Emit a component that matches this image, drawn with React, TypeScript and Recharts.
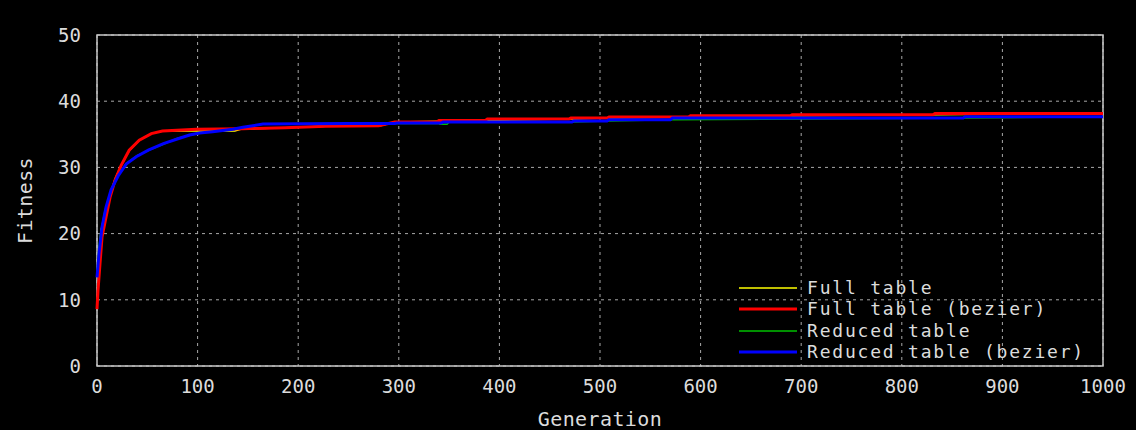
import { LineChart, Line, XAxis, YAxis, CartesianGrid, Legend, ReferenceArea } from "recharts";

// generation / fitness pairs
const fullTableGen = [0, 2, 4, 8, 12, 18, 24, 32, 42, 54, 65, 137, 143, 187, 227, 280, 296, 386, 469, 507, 588, 689, 831, 1000];
const fullTableFit = [14, 17, 20.5, 23, 25.5, 28.3, 30.3, 32.5, 34.1, 35.1, 35.5, 35.5, 35.75, 36.0, 36.2, 36.2, 36.85, 37.1, 37.3, 37.45, 37.6, 37.8, 37.95, 38.15];

const fullBezierGen = [0, 1, 3, 5, 9, 13, 18, 24, 32, 42, 54, 65, 99, 145, 187, 227, 280, 296, 338, 340, 386, 388, 469, 471, 507, 509, 588, 590, 689, 691, 831, 833, 1000];
const fullBezierFit = [8.6, 11.4, 15.5, 19.5, 22.5, 25.5, 28.1, 30.3, 32.6, 34.1, 35.1, 35.5, 35.75, 35.85, 36.0, 36.2, 36.3, 36.85, 36.9, 37.1, 37.1, 37.3, 37.3, 37.45, 37.45, 37.6, 37.6, 37.8, 37.8, 37.95, 37.95, 38.15, 38.15];

const reducedTableGen = [0, 2, 4, 8, 14, 21, 29, 40, 52, 66, 80, 102, 135, 165, 250, 340, 341, 348, 350, 472, 507, 570, 861, 1000];
const reducedTableFit = [14, 18, 20.5, 23.5, 26.5, 28.8, 30.6, 31.8, 32.6, 33.5, 34.4, 35.2, 35.75, 36.55, 36.65, 36.65, 36.5, 36.5, 36.85, 36.85, 37.0, 37.2, 37.45, 37.65];

const reducedBezierGen = [0, 2, 5, 9, 14, 21, 29, 39, 51, 66, 82, 92, 102, 115, 135, 145, 155, 165, 250, 296, 298, 342, 344, 472, 474, 507, 509, 570, 572, 861, 863, 1000];
const reducedBezierFit = [13.4, 17, 21, 24, 26.6, 28.7, 30.5, 31.6, 32.6, 33.6, 34.4, 34.9, 35.2, 35.4, 35.75, 36.05, 36.3, 36.55, 36.65, 36.65, 36.7, 36.7, 36.85, 36.85, 37.0, 37.0, 37.2, 37.2, 37.45, 37.45, 37.65, 37.65];

const xTicks = [0, 100, 200, 300, 400, 500, 600, 700, 800, 900, 1000];
const yTicks = [0, 10, 20, 30, 40, 50];

const toPoints = (gen: number[], fit: number[]) => gen.map((g, i) => ({ gen: g, fit: fit[i] }));

const SERIES = [
  { name: "Full table", color: "#ffff00", width: 1.5, data: toPoints(fullTableGen, fullTableFit) },
  { name: "Full table (bezier)", color: "#ff0000", width: 3, data: toPoints(fullBezierGen, fullBezierFit) },
  { name: "Reduced table", color: "#00c000", width: 1.5, data: toPoints(reducedTableGen, reducedTableFit) },
  { name: "Reduced table (bezier)", color: "#0000ff", width: 3, data: toPoints(reducedBezierGen, reducedBezierFit) },
];

const FONT = "'DejaVu Sans Mono', monospace";
const TEXT = "#dcdcdc";

function GnuplotLegend() {
  return (
    <div style={{ fontFamily: FONT, fontSize: 18, color: TEXT, lineHeight: "18px" }}>
      {SERIES.map(s => (
        <div key={s.name} style={{ display: "flex", alignItems: "center", height: 21.5 }}>
          <svg width={58} height={8} style={{ marginRight: 10, flex: "none" }}>
            <line x1={0} x2={58} y1={4} y2={4} stroke={s.color} strokeWidth={s.width} />
          </svg>
          <span style={{ whiteSpace: "pre", letterSpacing: 1.8 }}>{s.name}</span>
        </div>
      ))}
    </div>
  );
}

export default function App() {
  return (
    <div style={{ position: "absolute", left: 0, top: 0, width: 1136, height: 430, background: "#000" }}>
      <LineChart width={1136} height={430} margin={{ top: 35, right: 33, left: 0, bottom: 0 }}>
        <CartesianGrid stroke="#a8a8a8" strokeDasharray="3 4" />
        <XAxis
          type="number"
          dataKey="gen"
          domain={[0, 1000]}
          ticks={xTicks}
          height={64}
          tickLine={false}
          tickSize={0}
          tickMargin={14}
          axisLine={false}
          tick={{ fill: TEXT, fontFamily: FONT, fontSize: 19 }}
          label={{ value: "Generation", position: "insideBottom", offset: 4, fill: TEXT, fontFamily: FONT, fontSize: 20, letterSpacing: 0.4 }}
        />
        <YAxis
          type="number"
          domain={[0, 50]}
          ticks={yTicks}
          width={97}
          tickLine={false}
          tickSize={0}
          tickMargin={16}
          axisLine={false}
          tick={{ fill: TEXT, fontFamily: FONT, fontSize: 19 }}
          label={{
            content: (props: any) => {
              const vb = props.viewBox;
              const x = vb.x + 25;
              const y = vb.y + vb.height / 2;
              return (
                <text x={x} y={y} transform={`rotate(-90 ${x} ${y})`} textAnchor="middle" dominantBaseline="central"
                  fill={TEXT} fontFamily={FONT} fontSize={20} letterSpacing={0.4}>
                  Fitness
                </text>
              );
            },
          }}
        />
        <ReferenceArea x1={0} x2={1000} y1={0} y2={50} fill="none" stroke="#c8c8c8" strokeWidth={1.5} ifOverflow="visible" />
        {SERIES.map(s => (
          <Line
            key={s.name}
            data={s.data}
            dataKey="fit"
            name={s.name}
            type="linear"
            stroke={s.color}
            strokeWidth={s.width}
            dot={false}
            activeDot={false}
            isAnimationActive={false}
          />
        ))}
        <Legend
          layout="vertical"
          align="center"
          verticalAlign="middle"
          content={() => <GnuplotLegend />}
          wrapperStyle={{ left: 739, top: 277, width: 370, height: "auto" }}
        />
      </LineChart>
    </div>
  );
}
